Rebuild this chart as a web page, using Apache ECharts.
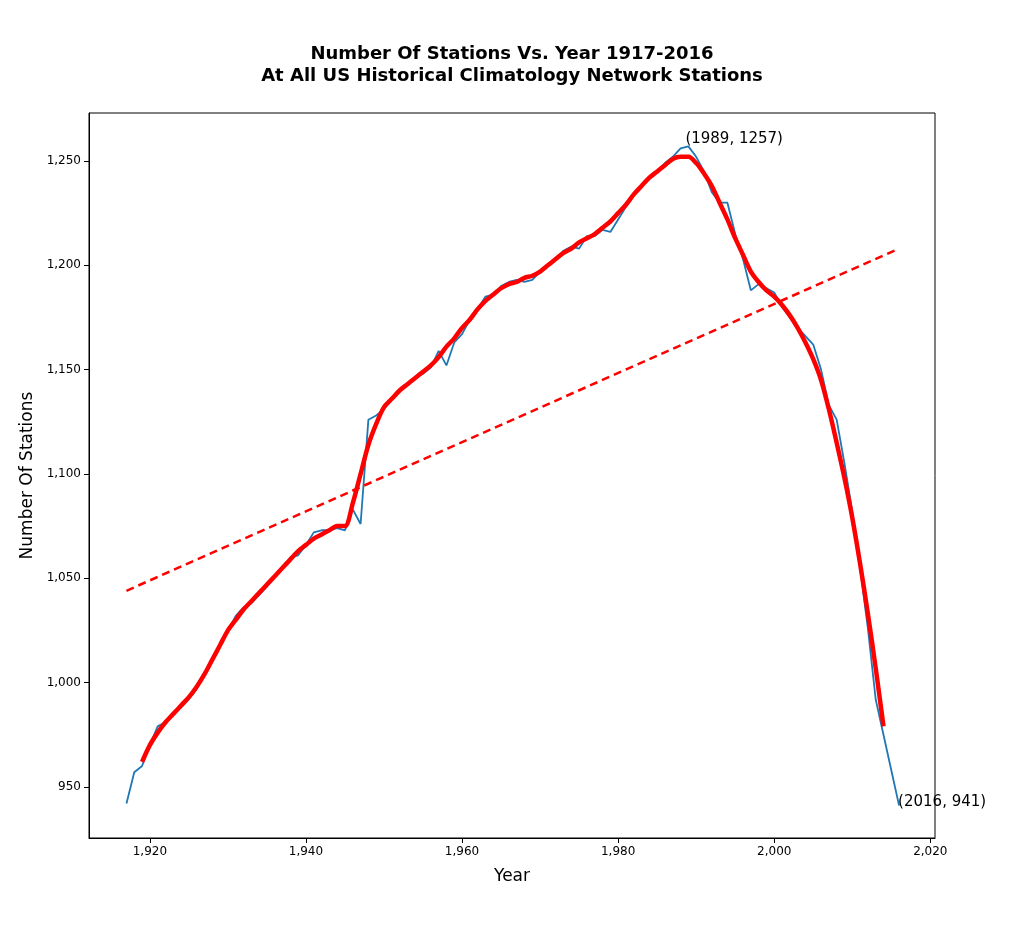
<!DOCTYPE html>
<html>
<head>
<meta charset="utf-8">
<script src="https://cdn.jsdelivr.net/npm/echarts@6/dist/echarts.min.js"></script>
<style>html,body{margin:0;padding:0;background:#fff}#chart{width:1024px;height:951px}</style>
</head>
<body>
<div id="chart"></div>
<script>
// yearly station counts
var years = [];
for (var y = 1917; y <= 2016; y++) years.push(y);
var stations = [942, 957, 960, 970, 979, 981, 985, 988, 992, 997,
  1004, 1011, 1018, 1025, 1032, 1036, 1038, 1042, 1046, 1051,
  1055, 1060, 1061, 1066, 1072, 1073, 1073, 1074, 1073, 1083,
  1076, 1126, 1128, 1131, 1136, 1140, 1143, 1146, 1148, 1151,
  1159, 1152, 1163, 1167, 1174, 1179, 1185, 1186, 1190, 1192,
  1193, 1192, 1193, 1197, 1200, 1203, 1207, 1209, 1208, 1214,
  1214, 1217, 1216, 1222, 1228, 1234, 1238, 1242, 1245, 1249,
  1252, 1256, 1257, 1252, 1245, 1235, 1230, 1230, 1215, 1203,
  1188, 1191, 1189, 1187, 1180, 1175, 1170, 1166, 1162, 1150,
  1133, 1126, 1105, 1082, 1055, 1026, 992, 975, 958, 941];

// smoothed curve, 1919-2014
var smoothStart = 1919;
var smoothed = [962, 970, 976, 981, 985, 989, 993, 998, 1004, 1011,
  1018, 1025, 1030, 1035, 1039, 1043, 1047, 1051, 1055, 1059,
  1063, 1066, 1069, 1071, 1073, 1075, 1075, 1086, 1100, 1114,
  1124, 1132, 1136, 1140, 1143, 1146, 1149, 1152, 1156, 1161,
  1165, 1170, 1174, 1179, 1183, 1186, 1189, 1191, 1192, 1194,
  1195, 1197, 1200, 1203, 1206, 1208, 1211, 1213, 1215, 1218,
  1221, 1225, 1229, 1234, 1238, 1242, 1245, 1248, 1251, 1252,
  1252, 1249, 1244, 1238, 1230, 1222, 1213, 1205, 1197, 1192,
  1188, 1185, 1181, 1176, 1170, 1163, 1155, 1145, 1131, 1115,
  1098, 1079, 1057, 1033, 1007, 979];

var trendYears = [1917, 2016];
var trendValues = [1044, 1208];

var xTicks = [1920, 1940, 1960, 1980, 2000, 2020];
var yTicks = [950, 1000, 1050, 1100, 1150, 1200, 1250];

var rawData = years.map(function (yr, i) { return [yr, stations[i]]; });
var smoothData = smoothed.map(function (v, i) { return [smoothStart + i, v]; });
var trendData = trendYears.map(function (yr, i) { return [yr, trendValues[i]]; });

var myChart = echarts.init(document.getElementById("chart"));
var font = "DejaVu Sans";
var option = {
  animation: false,
  textStyle: { fontFamily: font },
  title: {
    text: "Number Of Stations Vs. Year 1917-2016\nAt All US Historical Climatology Network Stations",
    left: "center",
    top: 38,
    textStyle: { fontSize: 18, fontWeight: "bold", color: "#000", lineHeight: 22, fontFamily: font }
  },
  grid: { left: 89, right: 89, top: 113, bottom: 113, show: true, borderColor: "#000", borderWidth: 1 },
  xAxis: {
    type: "value", min: 1912.2, max: 2020.6,
    name: "Year", nameLocation: "middle", nameGap: 30,
    nameTextStyle: { fontSize: 17, color: "#000" },
    splitLine: { show: false },
    axisLine: { lineStyle: { color: "#000" } },
    axisTick: { customValues: xTicks, length: 5, lineStyle: { color: "#000" } },
    axisLabel: { customValues: xTicks, color: "#000", fontSize: 12 }
  },
  yAxis: {
    type: "value", min: 925.5, max: 1273,
    name: "Number Of Stations", nameLocation: "middle", nameGap: 48,
    nameTextStyle: { fontSize: 17, color: "#000" },
    splitLine: { show: false },
    axisLine: { show: true, lineStyle: { color: "#000" } },
    axisTick: { show: true, customValues: yTicks, length: 5, lineStyle: { color: "#000" } },
    axisLabel: { customValues: yTicks, color: "#000", fontSize: 12 }
  },
  series: [
    {
      type: "line", data: rawData, symbol: "none",
      lineStyle: { color: "#1f77b4", width: 1.8 },
      markPoint: {
        symbol: "circle", symbolSize: 0,
        label: { show: true, color: "#000", fontSize: 15, position: "right", fontFamily: font },
        data: [
          { coord: [1989, 1257], value: "(1989, 1257)", label: { formatter: "(1989, 1257)", offset: [-8, -7] } },
          { coord: [2016, 941], value: "(2016, 941)", label: { formatter: "(2016, 941)", offset: [-6, -4] } }
        ]
      }
    },
    {
      type: "line", data: smoothData, symbol: "none", smooth: 0.3,
      lineStyle: { color: "#ff0000", width: 4.5 }
    },
    {
      type: "line", data: trendData, symbol: "none",
      lineStyle: { color: "#ff0000", width: 2.5, type: [8, 5] }
    }
  ]
};
myChart.setOption(option);
</script>
</body>
</html>
